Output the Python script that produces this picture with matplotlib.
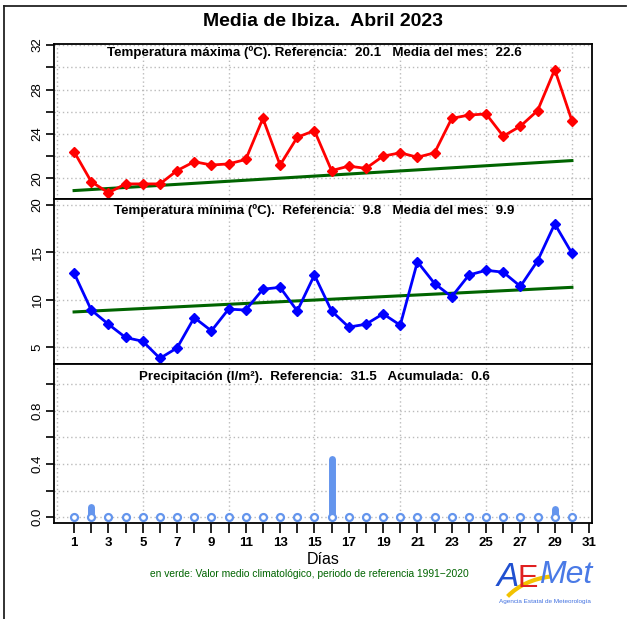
import numpy as np
import matplotlib
matplotlib.use("Agg")
import matplotlib.pyplot as plt
from matplotlib.lines import Line2D
from matplotlib.patches import Arc

plt.rcParams['font.family'] = ['Liberation Sans', 'DejaVu Sans']

# ==================================
#  Data
# ==================================
days = list(range(1, 31))

tmax = [22.4, 19.7, 18.7, 19.5, 19.5, 19.5, 20.7, 21.5, 21.2, 21.3,
        21.7, 25.4, 21.2, 23.7, 24.3, 20.7, 21.1, 20.9, 22.0, 22.3,
        21.9, 22.3, 25.4, 25.7, 25.8, 23.8, 24.7, 26.1, 29.8, 25.2]
tmax_clim = [18.9, 21.6]   # climatology, day 1 and day 30

tmin = [12.8, 8.9, 7.4, 6.0, 5.6, 3.8, 4.9, 8.1, 6.7, 9.0,
        8.9, 11.1, 11.3, 8.8, 12.6, 8.8, 7.1, 7.4, 8.5, 7.3,
        14.0, 11.7, 10.3, 12.6, 13.1, 12.9, 11.4, 14.1, 18.0, 14.9]
tmin_clim = [8.7, 11.3]

prec = [0.0, 0.08, 0.0, 0.0, 0.0, 0.0, 0.0, 0.0, 0.0, 0.0,
        0.0, 0.0, 0.0, 0.0, 0.0, 0.44, 0.0, 0.0, 0.0, 0.0,
        0.0, 0.0, 0.0, 0.0, 0.0, 0.0, 0.0, 0.0, 0.06, 0.0]

titles = ["Temperatura máxima (ºC). Referencia:  20.1   Media del mes:  22.6",
          "Temperatura mínima (ºC).  Referencia:  9.8   Media del mes:  9.9",
          "Precipitación (l/m²).  Referencia:  31.5   Acumulada:  0.6"]

W, H = 634, 619
fig = plt.figure(figsize=(W / 100, H / 100), dpi=100)

def fbox(x0, y0, x1, y1):
    # pixel box (top-left origin) -> figure fraction rect
    return [x0 / W, 1 - y1 / H, (x1 - x0) / W, (y1 - y0) / H]

ax1 = fig.add_axes(fbox(54, 44, 592, 199))
ax2 = fig.add_axes(fbox(54, 199, 592, 364))
ax3 = fig.add_axes(fbox(54, 364, 592, 523))

grid_kw = dict(color='#bbbbbb', linestyle=(0, (1, 2)), linewidth=1.0, zorder=0)
vgrid = list(range(0, 31, 5))

def setup(ax, ylim, yticks, ylabels, title, y_off):
    ax.set_xlim(-0.17, 31.17)
    ax.set_ylim(*ylim)
    for y in yticks:
        ax.axhline(y, **grid_kw)
    for x in vgrid:
        ax.axvline(x, **grid_kw)
    ax.set_yticks(yticks)
    ax.set_yticklabels(ylabels, rotation=90, va='center', fontsize=9.5)
    ax.tick_params(axis='y', length=6, width=1.2, pad=1.5)
    for s in ax.spines.values():
        s.set_linewidth(1.3)
    # subtitle, y_off pixels below the top of the panel
    ax.annotate(title, xy=(15, 1), xycoords=ax.get_xaxis_transform(),
                xytext=(0, -y_off), textcoords='offset pixels',
                ha='center', va='center', fontsize=9.6, fontweight='bold')

# --- Temperatura maxima
setup(ax1, (18.14, 32.1), [20, 22, 24, 26, 28, 30, 32],
      ['20', '', '24', '', '28', '', '32'], titles[0], 9)
ax1.plot([1, 30], tmax_clim, color='#006400', lw=2.2, zorder=2)
ax1.plot(days, tmax, color='red', lw=2, marker='D', ms=5, zorder=3)
ax1.set_xticks([])

# --- Temperatura minima
setup(ax2, (3.2, 20.63), [5, 10, 15, 20], ['5', '10', '15', '20'], titles[1], 12)
ax2.plot([1, 30], tmin_clim, color='#006400', lw=2.2, zorder=2)
ax2.plot(days, tmin, color='blue', lw=2, marker='D', ms=5, zorder=3)
ax2.set_xticks([])

# --- Precipitacion
setup(ax3, (-0.043, 1.15), [0, 0.2, 0.4, 0.6, 0.8, 1.0],
      ['0.0', '', '0.4', '', '0.8', ''], titles[2], 13)
ax3.vlines(days, 0, prec, color='#6495ED', lw=5, capstyle='round', zorder=2)
ax3.plot(days, [0] * len(days), ls='none', marker='o', ms=5,
         mfc='white', mec='#6495ED', mew=1.6, zorder=3)
ax3.set_xticks(range(1, 32))
ax3.set_xticklabels([str(d) if d % 2 == 1 else '' for d in range(1, 32)],
                    fontsize=9.5, fontweight='bold')
ax3.tick_params(axis='x', length=7, width=1.2, pad=3)

# Titles and notes
fig.text(323 / W, 1 - 21 / H, "Media de Ibiza.  Abril 2023",
         ha='center', va='center', fontsize=14, fontweight='bold')
fig.text(323 / W, 1 - 559 / H, "Días", ha='center', va='center', fontsize=11.5)
fig.text(309 / W, 1 - 574 / H,
         "en verde: Valor medio climatológico, periodo de referencia 1991\u22122020",
         ha='center', va='center', fontsize=7.4, color='#006400')

# AEMet logo (approximation)
fig.text(497 / W, 1 - 577 / H, "A", ha='left', va='center', fontsize=24,
         color='#2050d0', style='italic')
fig.text(518 / W, 1 - 579 / H, "E", ha='left', va='center', fontsize=22,
         color='#e02020')
fig.text(539 / W, 1 - 575 / H, "Met", ha='left', va='center', fontsize=23,
         color='#4a7ae6', style='italic')
fig.patches.append(Arc((560 / W, 1 - 626 / H), 130 / W, 100 / H, theta1=100, theta2=150,
                       transform=fig.transFigure, color='#f2c200', lw=3))
fig.text(545 / W, 1 - 602 / H, "Agencia Estatal de Meteorología",
         ha='center', va='center', fontsize=4.6, color='#4070e0')

# Frame lines at the top and left
fig.add_artist(Line2D([4 / W, 626 / W], [1 - 6 / H, 1 - 6 / H],
                      transform=fig.transFigure, color='#222222', lw=1.3))
fig.add_artist(Line2D([4 / W, 4 / W], [0, 1 - 6 / H],
                      transform=fig.transFigure, color='#222222', lw=1.3))

fig.savefig("out.png", dpi=100)
